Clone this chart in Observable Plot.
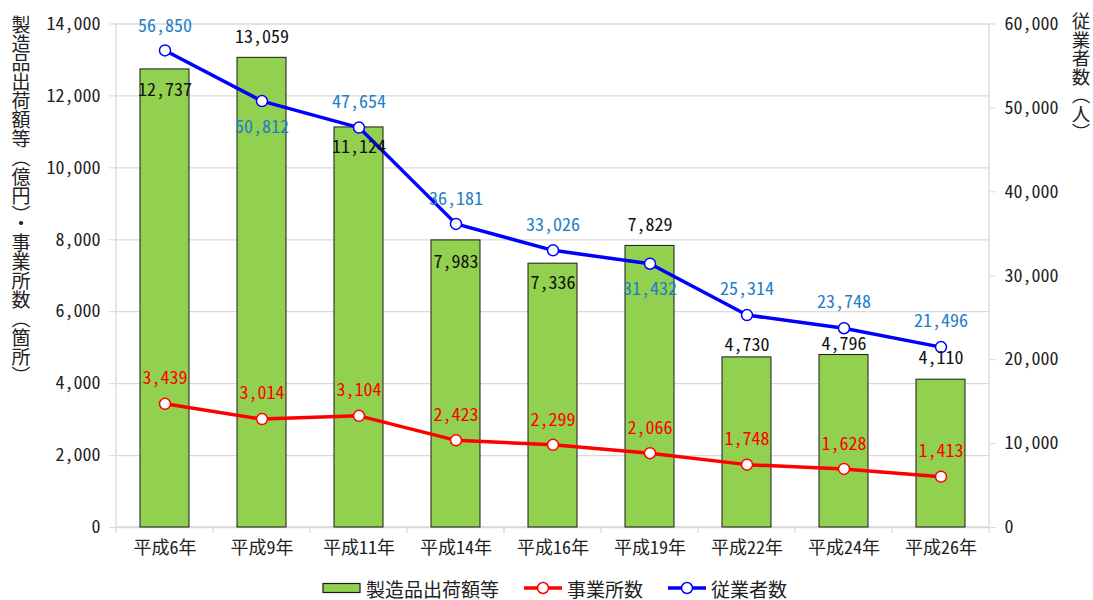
<!DOCTYPE html>
<html><head><meta charset="utf-8">
<script src="https://cdn.jsdelivr.net/npm/d3@7"></script>
<script src="https://cdn.jsdelivr.net/npm/@observablehq/plot@0.6"></script>
<style>
body{margin:0;background:#fff;font-family:"Noto Sans Mono CJK JP","Noto Sans CJK JP","Noto Sans",sans-serif;}
#legend{box-sizing:border-box;display:flex;justify-content:center;align-items:center;height:28px;padding-left:16px;padding-top:4px;font-size:19px;color:#222;}
#legend .item{display:flex;align-items:center;margin:0 12px;}
#legend svg{margin-right:4px;}
</style></head><body>
<div id="chart"></div>
<div id="legend"></div>
<script>
// ---- data ----
const years = ["平成6年","平成9年","平成11年","平成14年","平成16年","平成19年","平成22年","平成24年","平成26年"];
const shipments = [12737, 13059, 11124, 7983, 7336, 7829, 4730, 4796, 4110];      // 製造品出荷額等（億円）
const establishments = [3439, 3014, 3104, 2423, 2299, 2066, 1748, 1628, 1413];     // 事業所数（箇所）
const employees = [56850, 50812, 47654, 36181, 33026, 31432, 25314, 23748, 21496]; // 従業者数（人）
const leftTicks = [0, 2000, 4000, 6000, 8000, 10000, 12000, 14000];
const rightTicks = [0, 10000, 20000, 30000, 40000, 50000, 60000];
const seriesNames = ["製造品出荷額等", "事業所数", "従業者数"];
const leftTitle = "製造品出荷額等（億円）・事業所数（箇所）";
const rightTitle = "従業者数（人）";

// label offsets (px) relative to the value
const shipLabelDy = [21, -21, 20, 22, 20, -21, -12, -11, -21];
const estLabelDy  = [-26, -26, -26, -25, -25, -25, -25, -25, -25];
const empLabelDy  = [-24, 26, -25, -25, -25, 26, -26, -26, -26];

const GREEN = "#92D050", RED = "#FF0000", BLUE = "#0000FF", BLUE_TXT = "#1E7EC8";
const LEFT_MAX = 14000, RIGHT_MAX = 60000, k = LEFT_MAX / RIGHT_MAX;
const fmt = d3.format(",");
const FONT = '"Noto Sans Mono CJK JP","Noto Sans CJK JP","Noto Sans",sans-serif';

const rows = years.map((y, i) => ({
  year: y, i, ship: shipments[i], est: establishments[i],
  empRaw: employees[i], emp: employees[i] * k
}));

function labels(yField, textFn, dys, color) {
  const groups = d3.group(rows, d => dys[d.i]);
  return Array.from(groups, ([dy, data]) =>
    Plot.text(data, {x: "year", y: yField, text: textFn, dy, fill: color,
                     fontSize: 18, lineAnchor: "middle", textAnchor: "middle"}));
}

const chart = Plot.plot({
  width: 1093, height: 572,
  marginLeft: 115, marginRight: 104, marginTop: 23.5, marginBottom: 45,
  style: {fontFamily: FONT, fontSize: "18px", color: "#222", background: "#fff", overflow: "visible"},
  x: {domain: years, paddingInner: 0.5, paddingOuter: 0.25, label: null},
  y: {domain: [0, LEFT_MAX], label: null},
  marks: [
    Plot.gridY(leftTicks, {stroke: "#d9d9d9", strokeOpacity: 1, strokeWidth: 1.3}),
    Plot.axisY(leftTicks, {anchor: "left", tickSize: 6, tickPadding: 9, stroke: "#d9d9d9",
      tickFormat: fmt, label: null, fontSize: 18, fill: "#222"}),
    Plot.axisY(rightTicks.map(v => v * k), {anchor: "right", tickSize: 6, tickPadding: 9, stroke: "#d9d9d9",
      tickFormat: d => fmt(Math.round(d / k)), label: null, fontSize: 18, fill: "#222"}),
    Plot.axisX({tickSize: 0, tickPadding: 14, label: null, fontSize: 18, fill: "#222"}),
    Plot.barY(rows, {x: "year", y: "ship", fill: GREEN, stroke: "#1a1a1a", strokeWidth: 1}),
    Plot.line(rows, {x: "year", y: "est", stroke: RED, strokeWidth: 3.5}),
    Plot.dot(rows, {x: "year", y: "est", r: 5.5, fill: "#fff", stroke: RED, strokeWidth: 1.5}),
    Plot.line(rows, {x: "year", y: "emp", stroke: BLUE, strokeWidth: 3.5}),
    Plot.dot(rows, {x: "year", y: "emp", r: 5.5, fill: "#fff", stroke: BLUE, strokeWidth: 1.5}),
    ...labels("ship", d => fmt(d.ship), shipLabelDy, "#111"),
    ...labels("est", d => fmt(d.est), estLabelDy, RED),
    ...labels("emp", d => fmt(d.empRaw), empLabelDy, BLUE_TXT)
  ]
});

// frame lines and category boundary ticks from the scales
const svg = d3.select(chart);
const sx = chart.scale("x"), sy = chart.scale("y");
const step = sx.step, bw = sx.bandwidth;
const x0 = sx.apply(years[0]) - (step - bw) / 2;
const xN = x0 + step * years.length;
const yBottom = sy.apply(0), yTop = sy.apply(LEFT_MAX);
const g = svg.append("g").attr("stroke", "#d9d9d9").attr("stroke-width", 1.3);
[x0, xN].forEach(x => g.append("line").attr("x1", x).attr("x2", x).attr("y1", yTop).attr("y2", yBottom));
g.append("line").attr("x1", x0).attr("x2", xN).attr("y1", yBottom).attr("y2", yBottom);
d3.range(years.length + 1).forEach(i => {
  const x = x0 + i * step;
  g.append("line").attr("x1", x).attr("x2", x).attr("y1", yBottom).attr("y2", yBottom + 6);
});
svg.node().insertBefore(g.node(), svg.node().querySelector("g[aria-label='bar']"));

// vertical axis titles
svg.append("text").attr("x", 21).attr("y", 15).text(leftTitle)
  .attr("text-anchor", "start")
  .style("writing-mode", "vertical-rl").attr("font-size", 19)
  .attr("fill", "#222").attr("font-family", FONT);
svg.append("text").attr("x", 1081).attr("y", 12).text(rightTitle)
  .attr("text-anchor", "start")
  .style("writing-mode", "vertical-rl").attr("font-size", 18.5)
  .attr("fill", "#222").attr("font-family", FONT);

document.getElementById("chart").appendChild(chart);

// legend
const legend = d3.select("#legend");
const colors = [GREEN, RED, BLUE];
seriesNames.forEach((name, i) => {
  const item = legend.append("span").attr("class", "item");
  const s = item.append("svg").attr("width", 40).attr("height", 14);
  if (i === 0) {
    s.append("rect").attr("x", 1).attr("y", 2.5).attr("width", 37).attr("height", 9)
      .attr("fill", GREEN).attr("stroke", "#1a1a1a").attr("stroke-width", 1.2);
  } else {
    s.append("line").attr("x1", 1).attr("x2", 39).attr("y1", 7).attr("y2", 7)
      .attr("stroke", colors[i]).attr("stroke-width", 3.5);
    s.append("circle").attr("cx", 20).attr("cy", 7).attr("r", 5.5)
      .attr("fill", "#fff").attr("stroke", colors[i]).attr("stroke-width", 1.5);
  }
  item.append("span").text(name);
});
</script>
</body></html>
